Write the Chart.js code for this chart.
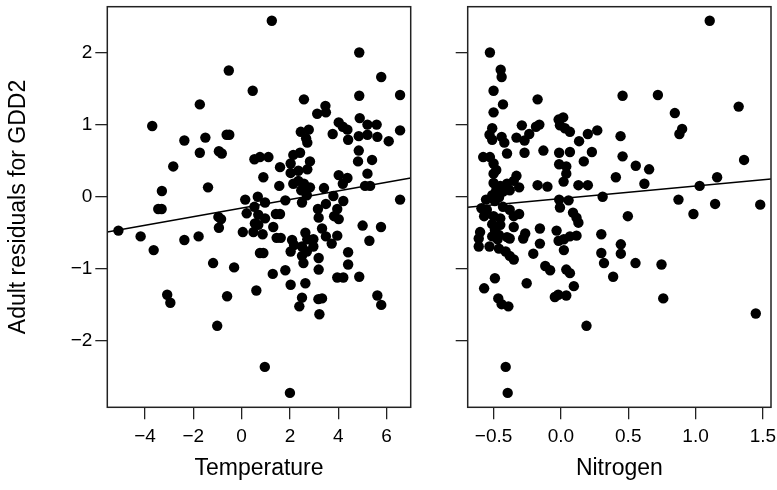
<!DOCTYPE html>
<html>
<head>
<meta charset="utf-8">
<script src="https://cdn.jsdelivr.net/npm/chart.js@4.4.0/dist/chart.umd.min.js"></script>
<style>
    body { margin: 0; background: #fff; }
    #wrap { position: relative; width: 777px; height: 490px; }
    .panel { position: absolute; top: 0; height: 490px; }
    #left { left: 0; width: 440px; }
    #right { left: 440px; width: 337px; }
</style>
</head>
<body>
<div id="wrap">
    <div class="panel" id="left"><canvas id="tempChart" width="440" height="490"></canvas></div>
    <div class="panel" id="right"><canvas id="nitroChart" width="337" height="490"></canvas></div>
</div>
<script>
// Temperature panel
const tempX = [1.25, -0.53, 0.46, -1.73, -3.70, -2.37, -1.50, -0.62, -0.51, -1.73,
    -0.94, -0.82, 0.53, 0.76, 1.11, -2.83, 0.90, -1.39, -3.30, 0.15,
    0.67, 0.97, 0.53, -3.45, -3.31, -5.10, -4.18, -3.64, -2.37, -1.78,
    -0.96, -0.85, -0.94, 0.05, 0.21, 0.49, 0.87, 0.55, 0.69, 0.69,
    0.97, 1.42, 1.59, 1.31, 1.45, 1.62, 0.76, 0.90, -1.18, -0.31,
    1.29, -3.08, -2.95, -0.60, 0.61, -1.01, 0.96, 3.13, 3.49, 4.89,
    4.02, 4.19, 4.38, 5.21, 5.59, 6.56, 3.77, 4.85, 5.21, 5.62,
    6.09, 4.41, 2.45, 2.78, 2.67, 2.72, 4.85, 4.82, 5.40, 5.21,
    1.59, 2.14, 2.42, 2.83, 2.72, 2.35, 2.03, 2.03, 1.56, 2.14,
    2.35, 2.58, 2.83, 2.47, 2.70, 3.41, 4.02, 4.38, 4.19, 5.11,
    5.32, 6.56, 3.80, 4.21, 1.81, 2.50, 3.16, 3.49, 3.19, 3.96,
    3.83, 4.02, 3.33, 3.49, 3.96, 5.01, 5.77, 5.29, 2.64, 2.72,
    2.97, 2.09, 2.17, 2.03, 2.50, 2.70, 2.97, 2.50, 2.56, 3.19,
    3.19, 3.73, 4.41, 4.41, 1.81, 2.64, 2.03, 3.96, 4.21, 4.87,
    4.87, 5.78, 4.87, 6.56, 2.58, 3.47, 5.62, 5.78, 2.50, 2.39,
    3.18, 3.33, 3.22, 2.00];
const tempY = [2.44, 1.75, 1.47, 1.28, 0.98, 0.78, 0.82, 0.86, 0.86, 0.61,
    0.63, 0.60, 0.52, 0.55, 0.55, 0.42, 0.27, 0.13, 0.08, -0.04,
    0.00, -0.08, -0.14, -0.17, -0.17, -0.47, -0.55, -0.74, -0.60, -0.55,
    -0.28, -0.31, -0.43, -0.49, -0.23, -0.49, -0.52, -0.37, -0.39, -0.25,
    -0.30, -0.24, -0.24, -0.42, -0.57, -0.57, -0.78, -0.78, -0.92, -0.98,
    -1.07, -1.36, -1.47, -1.38, -1.30, -1.79, -2.36, 1.15, 1.17, 1.09,
    1.03, 0.97, 0.93, 1.00, 1.00, 0.92, 0.87, 0.84, 0.86, 0.83,
    0.77, 0.79, 0.90, 0.93, 0.81, 0.75, 0.64, 0.49, 0.51, 0.32,
    0.41, 0.58, 0.61, 0.49, 0.38, 0.36, 0.33, 0.46, 0.15, 0.18,
    0.22, 0.18, 0.13, 0.09, 0.02, 0.12, 0.30, 0.26, 0.18, 0.15,
    0.15, -0.04, 0.01, -0.06, -0.05, -0.08, -0.17, -0.10, -0.29, -0.17,
    -0.27, -0.31, -0.44, -0.55, -0.54, -0.40, -0.42, -0.61, -0.50, -0.59,
    -0.59, -0.60, -0.67, -0.76, -0.69, -0.76, -0.69, -0.82, -0.92, -0.85,
    -1.01, -0.65, -0.77, -0.94, -1.02, -1.20, -1.22, -1.12, -1.12, -1.11,
    2.00, 1.66, 1.40, 1.41, 1.35, 1.26, -1.37, -1.50, -1.40, -1.52,
    -1.42, -1.41, -1.63, -2.72];
const tempFitX = [-5.56, 7.0];
const tempFitY = [-0.49, 0.26];
const tempTicks = [-4, -2, 0, 2, 4, 6];

// Nitrogen panel
const nitroX = [-0.527, -0.447, -0.44, -0.50, -0.43, -0.173, -0.50, -0.51, -0.53, -0.51,
    -0.44, -0.42, -0.40, -0.33, -0.29, -0.27, -0.235, -0.185, -0.16, -0.27,
    -0.13, -0.017, 0.017, -0.007, 0.03, 0.067, 0.135, 0.20, 0.27, -0.013,
    0.067, 0.23, 0.17, -0.577, -0.527, -0.50, -0.48, -0.50, -0.013, 0.04,
    0.04, 0.02, -0.173, -0.10, 0.13, 0.20, 0.31, -0.50, -0.45, -0.40,
    -0.35, -0.33, -0.31, -0.48, -0.43, -0.38, -0.51, -0.556, -0.49, -0.46,
    -0.59, -0.55, -0.57, -0.43, -0.38, -0.35, -0.31, -0.013, -0.007, 0.057,
    0.09, 0.116, 0.13, -0.50, -0.45, -0.51, -0.45, -0.49, -0.46, -0.51,
    -0.40, -0.38, -0.47, -0.60, -0.61, -0.61, -0.53, -0.46, -0.35, -0.28,
    -0.265, -0.156, -0.156, -0.205, -0.032, -0.017, 0.022, 0.067, 0.116, 0.022,
    0.30, 0.30, 0.32, -0.41, -0.38, -0.35, -0.116, -0.08, 0.04, 0.067,
    -0.49, -0.254, 0.096, -0.57, -0.045, -0.02, 0.04, -0.465, -0.44, -0.39,
    0.19, -0.41, -0.395, 1.105, 0.458, 0.72, 1.32, 0.846, 0.90, 0.88,
    0.443, 0.458, 0.556, 0.655, 1.36, 0.408, 0.62, 1.16, 1.03, 0.873,
    1.145, 1.48, 0.497, 0.984, 0.445, 0.445, 0.554, 0.747, 0.388, 0.76,
    1.447];
const nitroY = [2.00, 1.76, 1.66, 1.47, 1.28, 1.35, 1.17, 0.95, 0.86, 0.79,
    0.83, 0.75, 0.60, 0.82, 0.99, 0.78, 0.87, 0.97, 1.00, 0.61,
    0.64, 1.07, 1.10, 0.99, 0.95, 0.90, 0.77, 0.87, 0.92, 0.61,
    0.62, 0.62, 0.49, 0.55, 0.55, 0.46, 0.37, 0.32, 0.45, 0.42,
    0.32, 0.21, 0.16, 0.14, 0.16, 0.16, 0.00, 0.19, 0.15, 0.18,
    0.22, 0.29, 0.13, 0.09, 0.07, 0.09, 0.02, -0.04, -0.06, -0.01,
    -0.16, -0.18, -0.27, -0.14, -0.18, -0.27, -0.24, -0.04, -0.15, -0.05,
    -0.22, -0.29, -0.36, -0.27, -0.30, -0.38, -0.39, -0.46, -0.53, -0.55,
    -0.56, -0.58, -0.59, -0.49, -0.58, -0.69, -0.69, -0.72, -0.42, -0.58,
    -0.51, -0.44, -0.65, -0.79, -0.47, -0.61, -0.59, -0.55, -0.54, -0.74,
    -0.52, -0.78, -0.92, -0.76, -0.82, -0.87, -0.96, -1.02, -1.01, -1.06,
    -1.13, -1.20, -1.24, -1.27, -1.39, -1.36, -1.37, -1.41, -1.49, -1.52,
    -1.79, -2.36, -2.72, 2.44, 1.40, 1.41, 1.25, 1.16, 0.94, 0.87,
    0.84, 0.56, 0.43, 0.38, 0.51, 0.27, 0.18, 0.27, 0.15, -0.04,
    -0.10, -0.11, -0.27, -0.24, -0.66, -0.79, -0.92, -0.94, -1.11, -1.41,
    -1.62];
const nitroFitX = [-0.692, 1.56];
const nitroFitY = [-0.147, 0.245];
const nitroTicks = [-0.5, 0.0, 0.5, 1.0, 1.5];

const residualTicks = [-2, -1, 0, 1, 2];

const FONT = '"Liberation Sans", Arial, Helvetica, sans-serif';
const minus = s => String(s).replace('-', '\u2212');

// draws the frame round the plotting region
const panelBox = {
    id: 'panelBox',
    afterDraw(chart) {
        const { ctx, chartArea: a } = chart;
        ctx.save();
        ctx.strokeStyle = '#222';
        ctx.lineWidth = 1.5;
        ctx.strokeRect(a.left, a.top, a.right - a.left, a.bottom - a.top);
        ctx.restore();
    }
};

function pairs(xs, ys) {
    return xs.map((x, i) => ({ x: x, y: ys[i] }));
}

function makePanel(canvasId, opts) {
    const tickGrid = {
        display: true,
        drawOnChartArea: false,
        drawTicks: true,
        tickLength: 12,
        color: '#222',
        lineWidth: 1.3
    };

    return new Chart(document.getElementById(canvasId), {
        type: 'scatter',
        data: {
            datasets: [{
                data: pairs(opts.xs, opts.ys),
                backgroundColor: '#000',
                borderColor: '#000',
                pointRadius: 5.2,
                pointBorderWidth: 0
            }, {
                type: 'line',
                data: pairs(opts.fitX, opts.fitY),
                borderColor: '#000',
                borderWidth: 1.5,
                pointRadius: 0,
                fill: false
            }]
        },
        options: {
            responsive: false,
            animation: false,
            layout: {
                padding: { top: 6.7, right: opts.padRight, left: 0, bottom: 0 }
            },
            plugins: {
                legend: { display: false },
                tooltip: { enabled: false }
            },
            scales: {
                x: {
                    type: 'linear',
                    min: opts.xMin,
                    max: opts.xMax,
                    afterBuildTicks: scale => { scale.ticks = opts.xTicks.map(v => ({ value: v })); },
                    afterFit: scale => {
                        scale.height = 82.7;
                        scale.paddingLeft = 0;
                        scale.paddingRight = 0;
                    },
                    grid: tickGrid,
                    border: { display: false },
                    ticks: {
                        color: '#000',
                        padding: 6,
                        maxRotation: 0,
                        autoSkip: false,
                        font: { family: FONT, size: 19 },
                        callback: opts.xFormat
                    },
                    title: {
                        display: true,
                        text: opts.xTitle,
                        color: '#000',
                        font: { family: FONT, size: 23 },
                        padding: { top: 0, bottom: 8 }
                    }
                },
                y: {
                    type: 'linear',
                    min: -2.92,
                    max: 2.635,
                    afterBuildTicks: scale => { scale.ticks = residualTicks.map(v => ({ value: v })); },
                    afterFit: scale => {
                        scale.width = opts.yWidth;
                        scale.paddingTop = 0;
                        scale.paddingBottom = 0;
                    },
                    grid: tickGrid,
                    border: { display: false },
                    ticks: {
                        display: opts.yLabels,
                        color: '#000',
                        padding: 3,
                        autoSkip: false,
                        font: { family: FONT, size: 19 },
                        callback: v => minus(v)
                    },
                    title: {
                        display: !!opts.yTitle,
                        text: opts.yTitle || '',
                        color: '#000',
                        font: { family: FONT, size: 23 },
                        padding: { top: 5, bottom: 0 }
                    }
                }
            }
        },
        plugins: [panelBox]
    });
}

makePanel('tempChart', {
    xs: tempX, ys: tempY, fitX: tempFitX, fitY: tempFitY,
    xMin: -5.56, xMax: 7.0, xTicks: tempTicks,
    xFormat: v => minus(v),
    xTitle: 'Temperature',
    yTitle: 'Adult residuals for GDD2',
    yLabels: true,
    yWidth: 107.3,
    padRight: 29.3
});

makePanel('nitroChart', {
    xs: nitroX, ys: nitroY, fitX: nitroFitX, fitY: nitroFitY,
    xMin: -0.692, xMax: 1.56, xTicks: nitroTicks,
    xFormat: v => minus(Number(v).toFixed(1)),
    xTitle: 'Nitrogen',
    yTitle: null,
    yLabels: false,
    yWidth: 27.7,
    padRight: 6
});
</script>
</body>
</html>
